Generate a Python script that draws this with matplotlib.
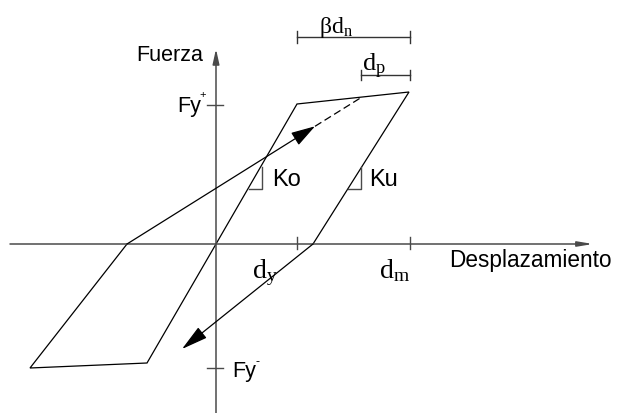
import matplotlib.pyplot as plt

# Diagram units: displacement on x, force on y, origin at (0, 0)
dy = 81
dm = 194
fy_pos = 139
fy_neg = -124

# Hysteresis loop vertices (displacement, force)
loop_x = [-89, -186, -69, 0, 81, 193, 97]
loop_y = [0, -124, -119, 0, 140, 152, 0]

# Reloading branch: solid up to the arrow tip, dashed onto the top branch
reload_x = [-89, 99, 146]
reload_y = [0, 117.7, 147]

# Unloading arrow towards the negative side
unload_x = [97, -34]
unload_y = [0, -105]

# Stiffness triangles for Ko and Ku
ko_tri_x = [33, 46, 46]
ko_tri_y = [55, 55, 77]
ku_tri_x = [132, 145, 145]
ku_tri_y = [55, 55, 77]

# Dimension lines: beta*dn and dp
bdn_x = [81, 194]
bdn_y = 206.7
dp_x = [145, 194]
dp_y = 169

axis_col = '#4a4a4a'

fig = plt.figure(figsize=(6.18, 4.14), dpi=100)
ax = fig.add_axes([0, 0, 1, 1])
ax.set_xlim(-216, 402)
ax.set_ylim(-169, 245)
ax.axis('off')

# Axes with arrowheads
ax.annotate('', xy=(377, 0), xytext=(-206, 0),
            arrowprops=dict(arrowstyle='-|>,head_length=0.9,head_width=0.15',
                            mutation_scale=10, color=axis_col, lw=1.1,
                            shrinkA=0, shrinkB=0))
ax.annotate('', xy=(0, 195), xytext=(0, -169),
            arrowprops=dict(arrowstyle='-|>,head_length=0.9,head_width=0.2',
                            mutation_scale=10, color=axis_col, lw=1.1,
                            shrinkA=0, shrinkB=0))

# Ticks on the axes
for x in (dy, dm):
    ax.plot([x, x], [-5, 7], color=axis_col, lw=1.0)
for y in (fy_pos, fy_neg):
    ax.plot([-9.3, 7.3], [y, y], color=axis_col, lw=1.0)

# Loop
ax.plot(loop_x, loop_y, color='black', lw=0.9, solid_joinstyle='miter')

# Reloading path
ax.annotate('', xy=(reload_x[1], reload_y[1]), xytext=(reload_x[0], reload_y[0]),
            arrowprops=dict(arrowstyle='-|>,head_length=1.0,head_width=0.3',
                            mutation_scale=15, color='black', lw=0.9,
                            shrinkA=0, shrinkB=0))
ax.plot(reload_x[1:], reload_y[1:], color='black', lw=0.9,
        linestyle=(0, (6, 3)))

# Unloading path
ax.annotate('', xy=(unload_x[1], unload_y[1]), xytext=(unload_x[0], unload_y[0]),
            arrowprops=dict(arrowstyle='-|>,head_length=1.1,head_width=0.28',
                            mutation_scale=15, color='black', lw=0.9,
                            shrinkA=0, shrinkB=0))

# Stiffness triangles
ax.plot(ko_tri_x, ko_tri_y, color=axis_col, lw=1.0)
ax.plot(ku_tri_x, ku_tri_y, color=axis_col, lw=1.0)

# Dimension lines
ax.plot(bdn_x, [bdn_y, bdn_y], color='#333333', lw=1.0)
for x in bdn_x:
    ax.plot([x, x], [bdn_y - 5.5, bdn_y + 6.5], color='#333333', lw=1.0)
ax.plot(dp_x, [dp_y, dp_y], color='#333333', lw=1.0)
for x in dp_x:
    ax.plot([x, x], [dp_y - 5, dp_y + 5], color='#333333', lw=1.0)

sans = 'Liberation Sans'
serif = 'Liberation Serif'

ax.text(-13.3, 184, 'Fuerza', family=sans, fontsize=15.5, ha='right', va='baseline')
ax.text(233, -21.7, 'Desplazamiento', family=sans, fontsize=16.3, ha='left', va='baseline')
ax.text(-38.7, 133, 'Fy', family=sans, fontsize=15.5, ha='left', va='baseline')
ax.text(-13, 150, '+', family=sans, fontsize=8, ha='center', va='center')
ax.text(16.3, -132.3, 'Fy', family=sans, fontsize=15.5, ha='left', va='baseline')
ax.text(41, -117, '-', family=sans, fontsize=9, ha='center', va='center')
ax.text(55.7, 59.3, 'Ko', family=sans, fontsize=17, ha='left', va='baseline')
ax.text(153.3, 59.3, 'Ku', family=sans, fontsize=17, ha='left', va='baseline')

ax.text(35.7, -33.3, r'$\mathregular{d_y}$', family=serif, fontsize=20, ha='left', va='baseline')
ax.text(163.3, -33.3, r'$\mathregular{d_m}$', family=serif, fontsize=20, ha='left', va='baseline')
ax.text(103.3, 211.7, r'$\mathregular{βd_n}$', family=serif, fontsize=17, ha='left', va='baseline')
ax.text(145.7, 174, r'$\mathregular{d_p}$', family=serif, fontsize=19, ha='left', va='baseline')

fig.savefig('out.png', dpi=100)
